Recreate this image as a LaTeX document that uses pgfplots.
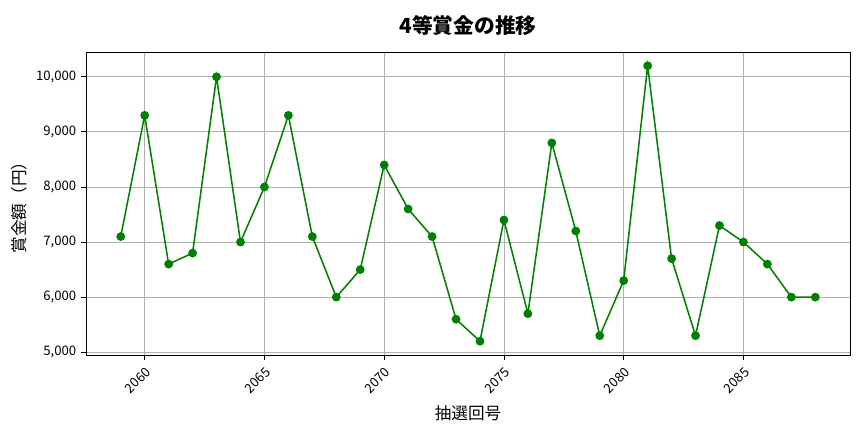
\documentclass[border=0pt]{standalone}
\usepackage{pgfplots}
\pgfplotsset{compat=1.18}
\usepackage{fontspec}
\setmainfont{Noto Sans CJK JP}
\definecolor{mplgreen}{RGB}{0,128,0}
\definecolor{gridgray}{RGB}{176,176,176}

\begin{document}
\begin{tikzpicture}
\begin{axis}[
    name=main,
    scale only axis,
    width=7.64in, height=3.03in,
    xmin=2057.55, xmax=2089.45,
    ymin=4950, ymax=10450,
    xtick={2060,2065,2070,2075,2080,2085},
    ytick={5000,6000,7000,8000,9000,10000},
    grid=major,
    grid style={gridgray, line width=0.6pt},
    axis line style={line width=0.6pt},
    tick align=outside,
    tick pos=left,
    major tick length=3.5pt,
    tick style={black, line width=0.6pt},
    /pgf/number format/assume math mode=true,
    yticklabel style={font=\fontsize{9.5}{11}\selectfont,
        /pgf/number format/.cd, fixed, 1000 sep={,}},
    xticklabel style={font=\fontsize{9.5}{11}\selectfont, rotate=45, anchor=north east,
        /pgf/number format/.cd, 1000 sep={}},
    scaled y ticks=false,
    title={\bfseries 4等賞金の推移},
    title style={font=\fontsize{15}{17}\selectfont, yshift=2pt},
    xlabel={抽選回号},
    ylabel={賞金額（円）},
    label style={font=\fontsize{12}{14}\selectfont},
]
\addplot[color=mplgreen, line width=1.1pt, mark=*, mark size=2.6pt,
    mark options={fill=mplgreen, draw=mplgreen}] coordinates {
    (2059,7100) (2060,9300) (2061,6600) (2062,6800) (2063,10000)
    (2064,7000) (2065,8000) (2066,9300) (2067,7100) (2068,6000)
    (2069,6500) (2070,8400) (2071,7600) (2072,7100) (2073,5600)
    (2074,5200) (2075,7400) (2076,5700) (2077,8800) (2078,7200)
    (2079,5300) (2080,6300) (2081,10200) (2082,6700) (2083,5300)
    (2084,7300) (2085,7000) (2086,6600) (2087,6000) (2088,6000)
};
\end{axis}
\pgfresetboundingbox
\path ([xshift=-0.86in, yshift=-0.77in]main.south west) rectangle ([xshift=0.14in, yshift=0.52in]main.north east);
\end{tikzpicture}
\end{document}
